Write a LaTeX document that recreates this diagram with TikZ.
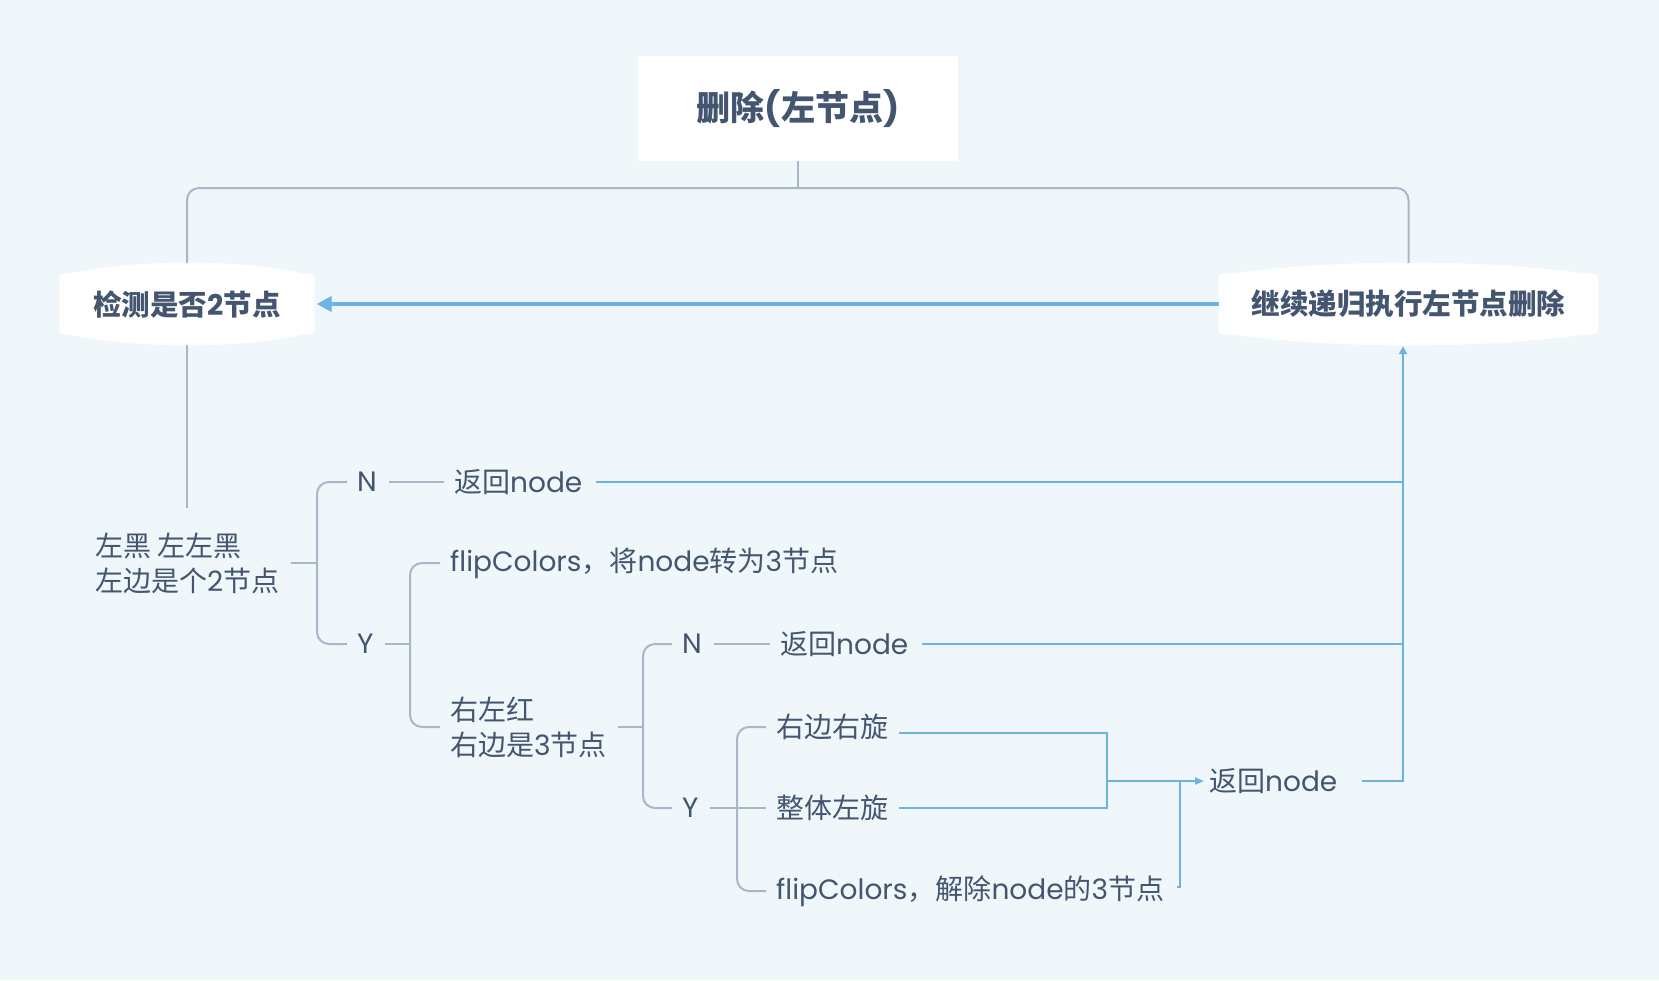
\documentclass[tikz,border=0pt]{standalone}
\usepackage{fontspec}
\setmainfont{Poppins}
\newfontfamily\cjk{Noto Sans CJK SC}
\newcommand\zh[1]{{\cjk #1}}
\usetikzlibrary{arrows.meta}
\definecolor{bgc}{RGB}{239,247,250}
\definecolor{txt}{RGB}{68,85,112}
\definecolor{gline}{RGB}{168,184,200}
\definecolor{bline}{RGB}{108,179,226}
\pgfdeclarelayer{back}
\pgfdeclarelayer{shapes}
\pgfsetlayers{back,shapes,main}
\tikzset{
  rootbox/.style={fill=white, minimum width=320pt, minimum height=105pt, inner sep=0pt, text=txt, font=\fontsize{34}{40}\selectfont\bfseries},
  titlebox/.style={minimum height=60pt, inner sep=0pt, text=txt, font=\fontsize{28.5}{34}\selectfont\bfseries},
  topic/.style={inner sep=0pt, anchor=west, text=txt, align=left, font=\fontsize{28}{35}\selectfont},
  gl/.style={draw=gline, line width=2pt, rounded corners=12pt},
  bl/.style={draw=bline, line width=2pt},
  mainarrow/.style={draw=bline, line width=4pt, -{Triangle[length=15pt,width=15pt]}},
}
\newcommand\barrel[2]{%
  \begin{pgfonlayer}{shapes}
  \fill[white] ([yshift=-9pt]#1.north west) .. controls (#1.north west) .. ([xshift=9pt]#1.north west)
    .. controls ([xshift=#2,yshift=15pt]#1.north west) and ([xshift=-#2,yshift=15pt]#1.north east) .. ([xshift=-9pt]#1.north east)
    .. controls (#1.north east) .. ([yshift=-9pt]#1.north east)
    -- ([yshift=9pt]#1.south east) .. controls (#1.south east) .. ([xshift=-9pt]#1.south east)
    .. controls ([xshift=-#2,yshift=-15pt]#1.south east) and ([xshift=#2,yshift=-15pt]#1.south west) .. ([xshift=9pt]#1.south west)
    .. controls (#1.south west) .. ([yshift=9pt]#1.south west) -- cycle;
  \end{pgfonlayer}}
\begin{document}
\begin{tikzpicture}[x=1pt,y=-1pt]
\begin{pgfonlayer}{back}
\fill[bgc] (0,0) rectangle (1659,980);
\end{pgfonlayer}
\useasboundingbox (0,0) rectangle (1659,980);

% top level
\node[rootbox] (root) at (798,108.5) {\zh{删除}(\zh{左节点})};
\node[titlebox, minimum width=255pt] (L) at (187,304) {\zh{检测是否}2\zh{节点}};
\node[titlebox, minimum width=379pt] (R) at (1408.5,304) {\zh{继续递归执行左节点删除}};
\barrel{L}{80pt}
\barrel{R}{120pt}

\coordinate (hub) at (798,188);
\draw[gl, sharp corners] (root.south) -- (hub);
\draw[gl] ([yshift=11pt]L.north) |- (hub) -| ([yshift=11pt]R.north);
\draw[mainarrow] (R.west) -- ([xshift=2pt]L.east);

% left topic
\coordinate (t1top) at (187,508);
\draw[gl] ([yshift=-11pt]L.south) -- (t1top);
\node[topic] (t1) at (95,563) {\zh{左黑 左左黑}\\\zh{左边是个}2\zh{节点}};

\coordinate (b1) at (317,563);
\draw[gl] ([xshift=11pt]t1.east) -- (b1);
\node[topic] (n1) at (357,482) {N};
\node[topic] (y1) at (357,644) {Y};
\draw[gl] ([xshift=-10pt]n1.west) -| (b1) |- ([xshift=-10pt]y1.west);

\node[topic] (r1) at (454,482) {\zh{返回}node};
\draw[gl] ([xshift=12pt]n1.east) -- ([xshift=-10pt]r1.west);

\coordinate (vbot) at (1403,782);
\draw[bl] ([xshift=13pt]r1.east) -- (r1.east -| vbot);

\coordinate (b2) at (410,644);
\draw[gl] ([xshift=11pt]y1.east) -- (b2);
\node[topic] (f1) at (450,563) {flipColors\zh{，将}node\zh{转为}3\zh{节点}};
\node[topic] (t2) at (450,727) {\zh{右左红}\\\zh{右边是}3\zh{节点}};
\draw[gl] ([xshift=-10pt]f1.west) -| (b2) |- ([xshift=-10pt]t2.west);

\coordinate (b3) at (643,727);
\draw[gl] ([xshift=11pt]t2.east) -- (b3);
\node[topic] (n2) at (682,644) {N};
\node[topic] (y2) at (682,808) {Y};
\draw[gl] ([xshift=-10pt]n2.west) -| (b3) |- ([xshift=-10pt]y2.west);

\node[topic] (r2) at (780,644) {\zh{返回}node};
\draw[gl] ([xshift=12pt]n2.east) -- ([xshift=-10pt]r2.west);
\draw[bl] ([xshift=13pt]r2.east) -- (r2.east -| vbot);

\node[topic] (s1) at (776,727) {\zh{右边右旋}};
\node[topic] (s2) at (776,808) {\zh{整体左旋}};
\node[topic] (s3) at (776,891) {flipColors\zh{，解除}node\zh{的}3\zh{节点}};
\coordinate (b4) at (737,808);
\draw[gl] ([xshift=11pt]y2.east) -- ([xshift=-10pt]s2.west);
\draw[gl] ([xshift=-10pt]s1.west) -| (b4) |- ([xshift=-10pt]s3.west);

% blue merge
\coordinate (m) at (1107,781);
\coordinate (j) at (1180,781);
\node[topic] (r3) at (1209,781) {\zh{返回}node};
\draw[bl] ([xshift=11pt,yshift=-6pt]s1.east) -| (m);
\draw[bl] ([xshift=11pt]s2.east) -| (m);
\draw[bl, -{Triangle[length=9pt,width=7pt]}] (m) -- ([xshift=-5pt]r3.west);
\draw[bl] ([xshift=13pt,yshift=4pt]s3.east) -| (j);
\draw[bl, -{Triangle[length=8pt,width=8pt]}] ([xshift=24pt]r3.east) -| ([xshift=-5.5pt,yshift=-12pt]R.south);
\end{tikzpicture}
\end{document}
